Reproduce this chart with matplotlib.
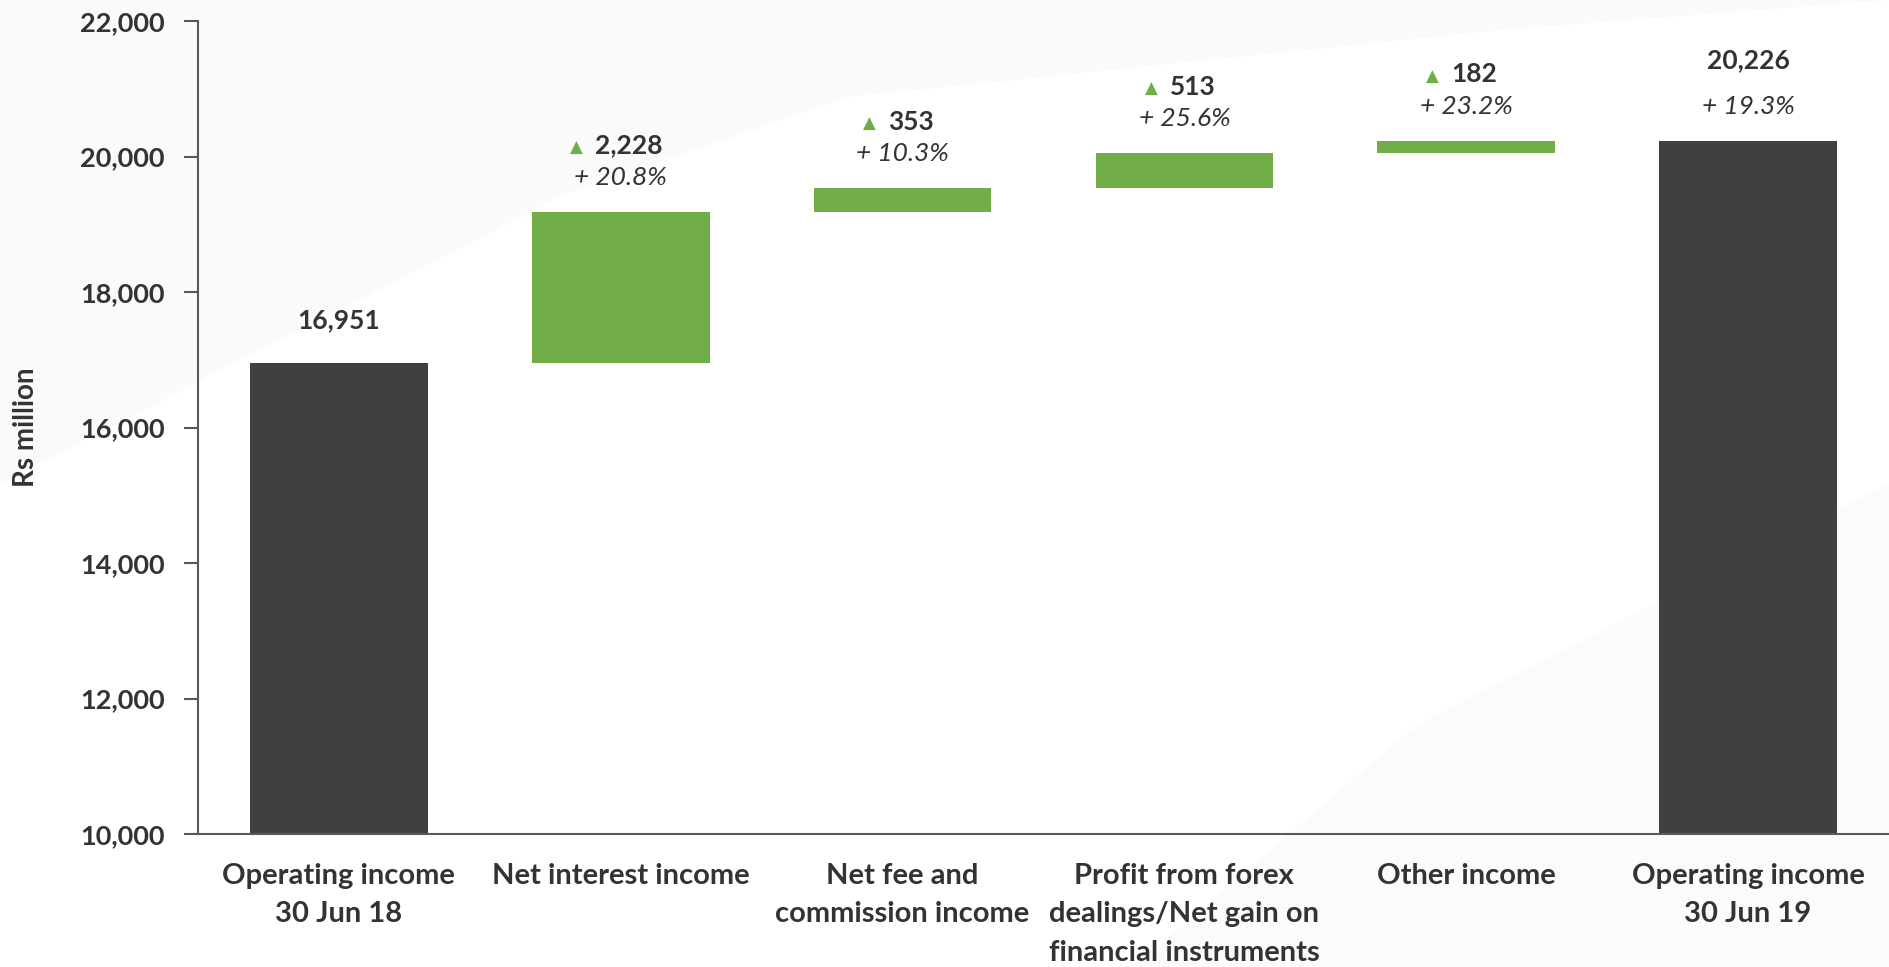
import matplotlib
matplotlib.use("Agg")
import matplotlib.pyplot as plt
from matplotlib.patches import Polygon
import numpy as np

# -- Data --
categories = ["Operating income\n30 Jun 18", "Net interest income",
              "Net fee and\ncommission income",
              "Profit from forex\ndealings/Net gain on\nfinancial instruments",
              "Other income", "Operating income\n30 Jun 19"]
start_value = 16951
changes = [2228, 353, 513, 182]
change_pct = ["+ 20.8%", "+ 10.3%", "+ 25.6%", "+ 23.2%"]
end_value = 20226
end_pct = "+ 19.3%"
y_ticks = [10000, 12000, 14000, 16000, 18000, 20000, 22000]

DARK = "#404040"
GREEN = "#70AD47"
TEXT = "#333333"

plt.rcParams["font.family"] = ["Lato", "DejaVu Sans"]

fig = plt.figure(figsize=(18.89, 9.67), dpi=100)
fig.patch.set_facecolor("white")

# faint background swooshes
bg = fig.add_axes([0, 0, 1, 1], zorder=-10)
bg.set_xlim(0, 1); bg.set_ylim(0, 1); bg.axis("off")
bg.add_patch(Polygon([(0, 0.5), (0.12, 0.62), (0.3, 0.8), (0.45, 0.9), (0.8, 0.97), (1, 1), (0, 1)],
                     closed=True, color="#fafafa", lw=0))
bg.add_patch(Polygon([(0.6, 0), (0.75, 0.25), (1, 0.5), (1, 0)],
                     closed=True, color="#fbfbfb", lw=0))

ax = fig.add_axes([198 / 1889, 1 - 834 / 967, 1 - 198 / 1889, (834 - 21) / 967])
ax.patch.set_alpha(0)

x = np.arange(len(categories))
width = 0.63

# running totals for the floating bars
bottoms = start_value + np.concatenate([[0], np.cumsum(changes)[:-1]])
ax.bar(x[0], start_value - 10000, bottom=10000, width=width, color=DARK)
ax.bar(x[1:5], changes, bottom=bottoms, width=width, color=GREEN)
ax.bar(x[5], end_value - 10000, bottom=10000, width=width, color=DARK)

ax.set_ylim(10000, 22000)
ax.set_xlim(-0.5, len(categories) - 0.5)
ax.set_yticks(y_ticks)
ax.set_yticklabels([f"{v:,}" for v in y_ticks], fontsize=19.5, fontweight="bold", color=TEXT)
ax.set_xticks(x)
ax.set_xticklabels(categories, fontsize=21, fontweight="bold", color=TEXT, linespacing=1.58,
                   va="top")
ax.tick_params(axis="x", length=0, pad=21)
ax.tick_params(axis="y", length=10, width=1.5, color="#595959", pad=14)
for s in ["top", "right"]:
    ax.spines[s].set_visible(False)
for s in ["left", "bottom"]:
    ax.spines[s].set_color("#595959")
    ax.spines[s].set_linewidth(1.5)

ax.set_ylabel("Rs million", fontsize=20, fontweight="bold", color=TEXT, va="center")
ax.yaxis.set_label_coords(-0.102, 0.5)

# labels
ax.annotate(f"{start_value:,}", xy=(x[0], start_value), xytext=(0, 22), textcoords="offset points",
            ha="center", va="bottom", fontsize=19, fontweight="bold", color=TEXT)

tops = bottoms + np.array(changes)
for i, (c, p, t) in enumerate(zip(changes, change_pct, tops)):
    xi = x[i + 1]
    val = ax.annotate(f"{c:,}", xy=(xi, t), xytext=(6, 48), textcoords="offset points",
                      ha="center", va="center", fontsize=19, fontweight="bold", color=TEXT)
    ax.annotate("▲", xy=(0, 0.4), xycoords=val, xytext=(-9, 0), textcoords="offset points",
                ha="right", va="center", fontsize=12, color=GREEN, family="DejaVu Sans")
    ax.annotate(p, xy=(xi, t), xytext=(0, 25), textcoords="offset points",
                ha="center", va="center", fontsize=19, style="italic", color=TEXT)

ax.annotate(f"{end_value:,}", xy=(x[5], end_value), xytext=(0, 58), textcoords="offset points",
            ha="center", va="center", fontsize=19, fontweight="bold", color=TEXT)
ax.annotate(end_pct, xy=(x[5], end_value), xytext=(0, 25), textcoords="offset points",
            ha="center", va="center", fontsize=19, style="italic", color=TEXT)

fig.savefig("out.png", dpi=100)
